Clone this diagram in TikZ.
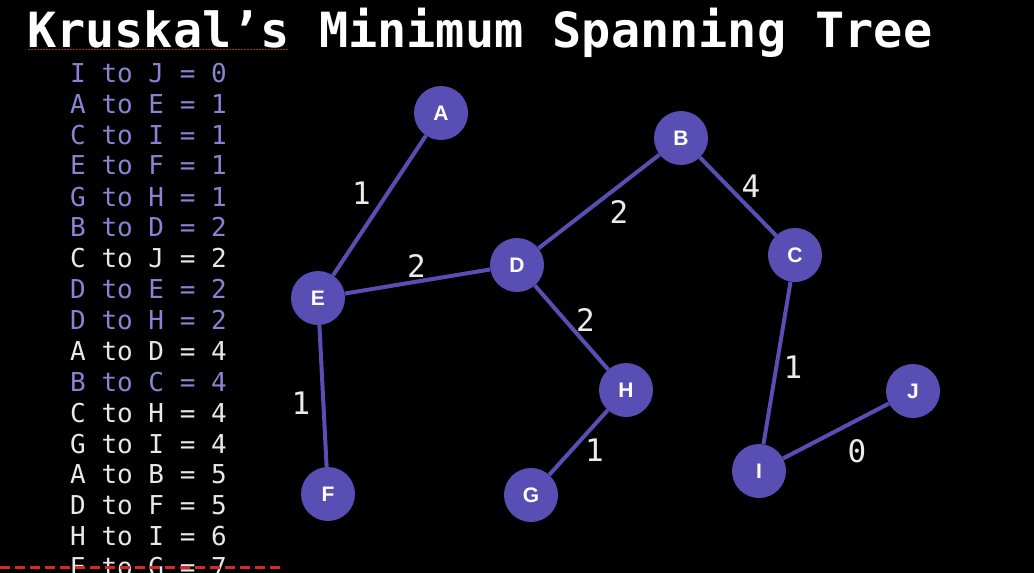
\documentclass[tikz,border=0pt]{standalone}
\usepackage{fontspec}
\setmonofont{DejaVu Sans Mono}
\setsansfont{Liberation Sans}
\usetikzlibrary{positioning}
\definecolor{vertexblue}{RGB}{88,78,180}
\definecolor{pickedtxt}{RGB}{140,130,212}
\definecolor{skiptxt}{RGB}{232,232,232}
\definecolor{squiggle}{RGB}{214,40,40}

\begin{document}
\begin{tikzpicture}[x=1pt, y=-1pt,
  vertex/.style={circle, fill=vertexblue, minimum size=54pt, inner sep=0pt,
                 text=white, font=\sffamily\bfseries\fontsize{21}{21}\selectfont},
  edge/.style={draw=vertexblue, line width=4pt},
  wt/.style={text=white!92!black, inner sep=0pt,
             font=\ttfamily\fontsize{31}{31}\selectfont},
  row/.style={anchor=west, inner sep=0pt, font=\ttfamily\fontsize{26}{26}\selectfont},
  picked/.style={row, text=pickedtxt},
  skipped/.style={row, text=skiptxt}
]

% Frame
\useasboundingbox (0,0) rectangle (1034,573);
\fill[black] (0,0) rectangle (1034,573);
\clip (0,0) rectangle (1034,573);

% Title
\node[anchor=base west, inner sep=0pt, text=white,
      font=\ttfamily\bfseries\fontsize{48.5}{48.5}\selectfont] (title) at (27,47)
  {Kruskal’s Minimum Spanning Tree};
\draw[squiggle!80!black, line width=1.6pt, dash pattern=on 1.6pt off 1.4pt] (28,49.5) -- (288,49.5);

% Left: sorted edge list
\foreach \txt/\st [count=\i from 0] in {
    I to J = 0/picked, A to E = 1/picked, C to I = 1/picked, E to F = 1/picked,
    G to H = 1/picked, B to D = 2/picked, C to J = 2/skipped, D to E = 2/picked,
    D to H = 2/picked, A to D = 4/skipped, B to C = 4/picked, C to H = 4/skipped,
    G to I = 4/skipped, A to B = 5/skipped, D to F = 5/skipped, H to I = 6/skipped,
    E to G = 7/skipped}
  \node[\st] (e\i) at (70,{73+30.9*\i}) {\txt};

% Right: the graph
\node[vertex] (A) at (441,113) {A};
\node[vertex] (B) at (681,138) {B};
\node[vertex] (C) at (795,255) {C};
\node[vertex] (D) at (517,265) {D};
\node[vertex] (E) at (318,298) {E};
\node[vertex] (F) at (328,494) {F};
\node[vertex] (G) at (531,495) {G};
\node[vertex] (H) at (626,390) {H};
\node[vertex] (I) at (759,471) {I};
\node[vertex] (J) at (913,391) {J};

\draw[edge] (A) -- node[wt, xshift=-18pt, yshift=12pt] {1} (E);
\draw[edge] (E) -- node[wt, xshift=-1pt, yshift=16pt] {2} (D);
\draw[edge] (D) -- node[wt, xshift=20pt, yshift=-10pt] {2} (B);
\draw[edge] (B) -- node[wt, xshift=13pt, yshift=10pt] {4} (C);
\draw[edge] (D) -- node[wt, xshift=14pt, yshift=8pt] {2} (H);
\draw[edge] (H) -- node[wt, xshift=16pt, yshift=-8pt] {1} (G);
\draw[edge] (E) -- node[wt, xshift=-22pt, yshift=-7pt] {1} (F);
\draw[edge] (C) -- node[wt, xshift=16pt, yshift=-4pt] {1} (I);
\draw[edge] (I) -- node[wt, xshift=21pt, yshift=-20pt] {0} (J);

% Bottom marker
\draw[squiggle, line width=3pt, dash pattern=on 10pt off 5pt] (0,567) -- (280,567);

\end{tikzpicture}
\end{document}
